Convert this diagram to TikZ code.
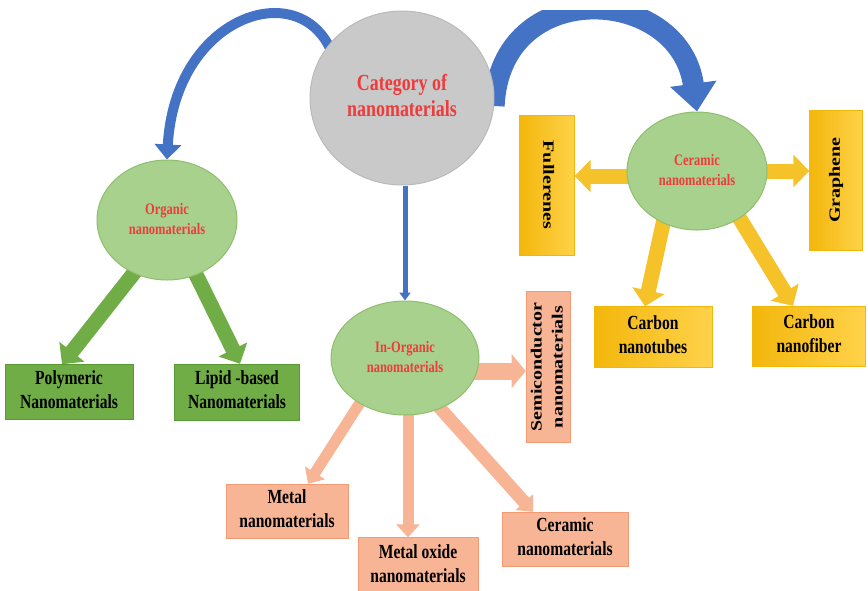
\documentclass[tikz,border=0pt]{standalone}
\usepackage{fontspec}
\setmainfont{Liberation Serif}
\usepackage{graphicx}
\usetikzlibrary{arrows.meta,shapes.geometric,backgrounds}

\definecolor{catgrey}{HTML}{C9C9C9}
\definecolor{catedge}{HTML}{BABABA}
\definecolor{leaf}{HTML}{A9D18E}
\definecolor{leafedge}{HTML}{8DBE6C}
\definecolor{grass}{HTML}{70AD47}
\definecolor{grassedge}{HTML}{5A9A35}
\definecolor{salmon}{HTML}{F8B595}
\definecolor{salmonedge}{HTML}{F29B74}
\definecolor{goldA}{HTML}{F3B70C}
\definecolor{goldB}{HTML}{FFD24A}
\definecolor{goldarrowc}{HTML}{F6C22A}
\definecolor{office}{HTML}{4472C4}
\definecolor{labelred}{HTML}{EE3B3B}

\newcommand{\squeezed}[1]{\scalebox{0.78}[1]{\begin{tabular}{@{}c@{}}#1\end{tabular}}}
\newcommand{\vertlabel}[2]{\scalebox{0.78}[1]{\rotatebox{#1}{\begin{tabular}{@{}c@{}}#2\end{tabular}}}}

\begin{document}
\begin{tikzpicture}[x=1pt, y=-1pt,
    hub/.style={ellipse, draw=catedge, fill=catgrey, line width=1pt,
      minimum width=184pt, minimum height=174pt, text=labelred,
      font=\fontsize{23}{26}\selectfont\bfseries},
    sub/.style={ellipse, draw=leafedge, fill=leaf, line width=1pt, text=labelred,
      font=\fontsize{16}{20}\selectfont\bfseries},
    greenbox/.style={rectangle, draw=grassedge, fill=grass, inner sep=1pt,
      font=\fontsize{20}{24}\selectfont\bfseries},
    salbox/.style={rectangle, draw=salmonedge, fill=salmon, inner sep=1pt,
      font=\fontsize{20}{24}\selectfont\bfseries},
    goldbox/.style={rectangle, draw=goldA, left color=goldA, right color=goldB, inner sep=1pt,
      font=\fontsize{20}{24}\selectfont\bfseries},
    greenarrow/.style={draw=grass, line width=15pt, shorten <=-10pt,
      -{Triangle[length=16pt,width=31pt]}},
    salarrow/.style={draw=salmon, line width=11pt, shorten <=-10pt,
      -{Triangle[length=13pt,width=23pt]}},
    goldarrow/.style={draw=goldarrowc, line width=15pt, shorten <=-10pt,
      -{Triangle[length=16pt,width=32pt]}},
    bluearrow/.style={draw=office, shorten <=-8pt}
  ]
  \useasboundingbox (0,0) rectangle (868,590);

  % circles
  \node[hub] (cat) at (402,98) {\squeezed{Category of\\nanomaterials}};
  \node[sub, minimum width=140pt, minimum height=120pt] (org) at (167,220) {\squeezed{Organic\\nanomaterials}};
  \node[sub, minimum width=148pt, minimum height=114pt] (inorg) at (405,358) {\squeezed{In-Organic\\nanomaterials}};
  \node[sub, minimum width=140pt, minimum height=118pt] (cer) at (697,171) {\squeezed{Ceramic\\nanomaterials}};

  % organic branch
  \node[greenbox, minimum width=128pt, minimum height=55pt] (poly) at (69,392) {\squeezed{Polymeric\\Nanomaterials}};
  \node[greenbox, minimum width=125pt, minimum height=56pt] (lipid) at (237,392) {\squeezed{Lipid -based\\Nanomaterials}};

  % in-organic branch
  \node[salbox, minimum width=43pt, minimum height=151pt, font=\fontsize{20}{27}\selectfont\bfseries] (semi) at (548,367) {\vertlabel{90}{Semiconductor\\nanomaterials}};
  \node[salbox, minimum width=122pt, minimum height=54pt] (metal) at (287,511) {\squeezed{Metal\\nanomaterials}};
  \node[salbox, minimum width=120pt, minimum height=57pt] (oxide) at (418,566) {\squeezed{Metal oxide\\nanomaterials}};
  \node[salbox, minimum width=126pt, minimum height=54pt] (cerbox) at (565,539) {\squeezed{Ceramic\\nanomaterials}};

  % ceramic branch
  \node[goldbox, minimum width=55pt, minimum height=140pt] (full) at (547,185) {\vertlabel{-90}{Fullerenes}};
  \node[goldbox, minimum width=53pt, minimum height=140pt] (graph) at (836,180) {\vertlabel{90}{Graphene}};
  \node[goldbox, minimum width=118pt, minimum height=61pt] (cnt) at (653,337) {\squeezed{Carbon\\nanotubes}};
  \node[goldbox, minimum width=113pt, minimum height=60pt] (cnf) at (809,336) {\squeezed{Carbon\\nanofiber}};

  \begin{pgfonlayer}{background}
    % blue arrows from the category
    \draw[bluearrow, line width=10pt, -{Triangle[length=15pt,width=26pt]}]
      (cat.144) .. controls (300,-25) and (175,15) .. (org.north);
    \begin{scope}
      \clip (0,10) rectangle (868,590);
      \draw[bluearrow, line width=21pt, -{Triangle[length=28pt,width=45pt]}]
        (cat.east) .. controls (500,-25) and (680,-15) .. (cer.north);
    \end{scope}
    \draw[draw=office, line width=5pt, -{Triangle[length=8pt,width=11pt]}]
      (inorg.north |- cat.south) -- (inorg.north);

    % green arrows
    \draw[greenarrow] (org.238) -- ([xshift=-7pt]poly.north);
    \draw[greenarrow] (org.298) -- ([xshift=3pt]lipid.north);

    % salmon arrows
    \draw[salarrow, line width=17pt, -{Triangle[length=14pt,width=33pt]}]
      ([yshift=-13pt]inorg.east) -- ([yshift=-13pt]inorg.east -| semi.west);
    \draw[salarrow] (inorg.225) -- ([xshift=21pt]metal.north);
    \coordinate (oxtop) at ([xshift=-10pt]oxide.north);
    \draw[salarrow] (oxtop |- inorg.south) -- (oxtop);
    \draw[salarrow, line width=13pt] (inorg.305) -- ([xshift=-32pt]cerbox.north);

    % gold arrows
    \draw[goldarrow] ([yshift=-5pt]cer.west) -- ([yshift=-5pt]cer.west -| full.east);
    \draw[goldarrow] (cer.east) -- (cer.east -| graph.west);
    \draw[goldarrow] (cer.237) -- ([xshift=-8pt]cnt.north);
    \draw[goldarrow] (cer.312) -- ([xshift=-16pt]cnf.north);
  \end{pgfonlayer}
\end{tikzpicture}
\end{document}
